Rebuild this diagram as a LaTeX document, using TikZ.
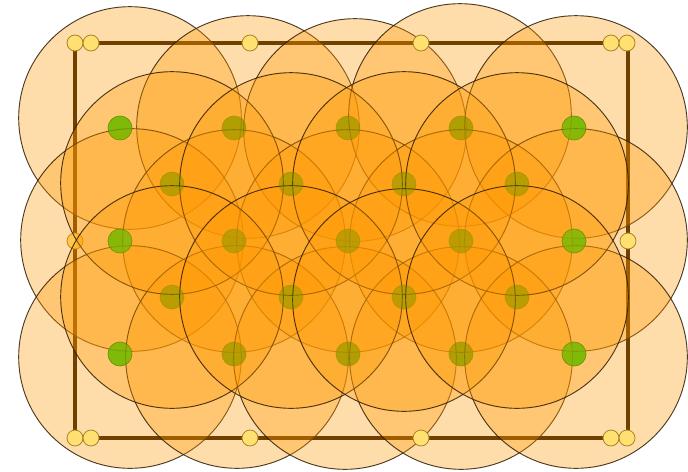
\documentclass[tikz,border=0pt]{standalone}
\usepackage{xcolor}
\usepackage{tikz}
\usetikzlibrary{positioning}
\definecolor{frame}{HTML}{2A1500}
\definecolor{cover}{HTML}{FF9900}
\definecolor{rim}{HTML}{2E1A04}
\definecolor{anchorbg}{HTML}{FFE070}
\definecolor{anchorrim}{HTML}{A8842A}
\definecolor{sensor}{HTML}{5CC40C}
\tikzset{
  field/.style={draw=frame,line width=2.4pt},
  reach/.style={circle,inner sep=0pt,minimum size=167pt,fill=cover,fill opacity=0.33,
    draw=rim,draw opacity=0.85,line width=0.7pt},
  bdot/.style={circle,inner sep=0pt,minimum size=12pt,fill=anchorbg,
    draw=anchorrim,line width=0.6pt},
  % --- sensor positions, grid and offset grid ---
  sdot/.style={circle,inner sep=0pt,minimum size=18pt,fill=sensor,
    draw=sensor!70!black,line width=0.5pt},
  sdottop/.style={sdot,fill opacity=0.6,draw opacity=0.5},
  sdotfaint/.style={sdot,fill=sensor!80!black,fill opacity=0.3,draw opacity=0.15},
}

\begin{document}
\begin{tikzpicture}[x=0.75pt,y=-0.75pt]
  \useasboundingbox (0,0) rectangle (688,471);
  \coordinate (nw) at (75,43);
  \coordinate (se) at (628,438);
  \draw[field] (nw) rectangle (se);
  \node[bdot] (a7) at (75,241) {};
  % sensors
  \foreach \x [count=\i] in {120,234,348,461,574}
    \foreach \y [count=\j] in {128,241,354}
      \node[sdot] (s\i\j) at (\x,\y) {};
  \foreach \x [count=\i] in {172,291,404,517}
    \foreach \y [count=\j] in {184,297}
      \node[sdot] (t\i\j) at (\x,\y) {};
  % sensing ranges
  \foreach \x/\y [count=\i] in {130/118,248/127,355/130,460/115,576/127,
      132/240,234/241,348/241,461/241,576/240,
      130/357,237/357,345/358,461/358,576/357,
      172/183,291/184,404/183,517/184,
      172/297,291/297,404/300,517/297}
    \node[reach] (r\i) at (\x,\y) {};
  % outer column stays visible, inner ones show through
  \foreach \x [count=\i] in {120,574}
    \foreach \y [count=\j] in {128,241,354}
      \node[sdottop] (u\i\j) at (\x,\y) {};
  \foreach \x [count=\i] in {234,348,461}
    \foreach \y [count=\j] in {128,241,354}
      \node[sdotfaint] (v\i\j) at (\x,\y) {};
  \foreach \x [count=\i] in {172,291,404,517}
    \foreach \y [count=\j] in {184,297}
      \node[sdotfaint] (w\i\j) at (\x,\y) {};
  % boundary anchors
  \foreach \x/\y [count=\i] in {75/43,91/43,250/43,421/43,611/43,627/43,
      628/241,75/438,91/438,250/438,421/438,611/438,627/438}
    \node[bdot] (b\i) at (\x,\y) {};
\end{tikzpicture}
\end{document}
